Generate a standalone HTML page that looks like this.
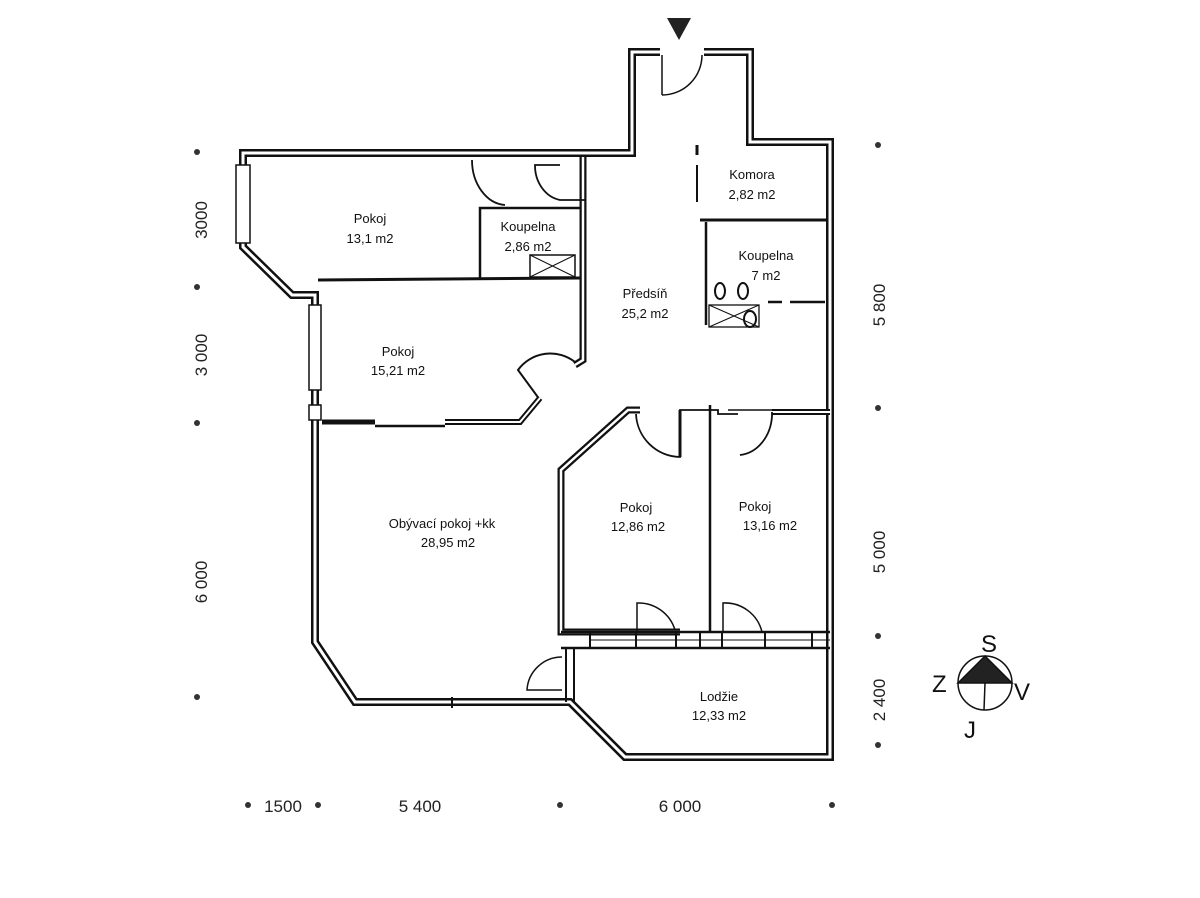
<!DOCTYPE html>
<html><head><meta charset="utf-8"><style>
html,body{margin:0;padding:0;background:#fff;}
svg{display:block;}
text{font-family:"Liberation Sans",sans-serif;font-size:13px;fill:#111;}
.d{font-size:17px;fill:#222;}
</style></head><body>
<svg width="1200" height="898" viewBox="0 0 1200 898">
<g fill="none" stroke="#111" stroke-linejoin="miter">
<!-- outer walls (double) -->
<path d="M243,153 L632,153 L632,52 L750,52 L750,142 L830,142 L830,757 L625,757 L570,702 L355,702 L315,642 L315,295 L292,295 L243,247 Z" stroke-width="8"/>
<path d="M243,153 L632,153 L632,52 L750,52 L750,142 L830,142 L830,757 L625,757 L570,702 L355,702 L315,642 L315,295 L292,295 L243,247 Z" stroke="#fff" stroke-width="3"/>
<!-- entrance door gap -->
<rect x="660" y="46" width="44" height="12" fill="#fff" stroke="none"/>
<path d="M662,55 L662,95 M662,95 A40,40 0 0 0 702,55" stroke-width="1.5"/>
<!-- window on left -->
<rect x="236" y="165" width="14" height="78" fill="#fff" stroke="#111" stroke-width="1.5"/>
<rect x="309" y="305" width="12" height="85" fill="#fff" stroke="#111" stroke-width="1.5"/>
<rect x="309" y="405" width="12" height="15" fill="#fff" stroke="#111" stroke-width="1.5"/>
<!-- wall 13.1 / 15.21 -->
<path d="M318,280 L580,278" stroke-width="3"/>
<!-- koupelna 2.86 -->
<path d="M480,280 L480,208 L582,208" stroke-width="2.5"/>
<path d="M583,157 L583,360 L575,365" stroke-width="7"/>
<path d="M583,157 L583,360 L575,365" stroke="#fff" stroke-width="2.5"/>
<rect x="530" y="255" width="45" height="22" stroke-width="1.5"/>
<path d="M530,255 L575,277 M575,255 L530,277" stroke-width="1"/>
<!-- doors top -->
<path d="M472,160 A35,45 0 0 0 505,205" stroke-width="1.8"/>
<path d="M560,165 L535,165 A30,35 0 0 0 560,200 L585,200" stroke-width="1.8"/>
<!-- door 15.21 -->
<path d="M575,362 A40,40 0 0 0 518,370 L540,400" stroke-width="2"/>
<path d="M540,398 L520,422 L445,422" stroke-width="6"/>
<path d="M540,398 L520,422 L445,422" stroke="#fff" stroke-width="2"/>
<path d="M322,422 L375,422" stroke-width="5"/>
<path d="M375,426 L445,426" stroke-width="2.5"/>
<!-- right block -->
<path d="M697,145 L697,155" stroke-width="3"/>
<path d="M697,165 L697,202" stroke-width="2"/>
<path d="M700,220 L827,220" stroke-width="3"/>
<path d="M706,222 L706,325" stroke-width="2.5"/>
<path d="M768,302 L782,302 M790,302 L825,302" stroke-width="2.5"/>
<ellipse cx="720" cy="291" rx="5" ry="8" stroke-width="2"/>
<ellipse cx="743" cy="291" rx="5" ry="8" stroke-width="2"/>
<rect x="709" y="305" width="50" height="22" stroke-width="1.3"/>
<path d="M709,305 L759,327 M759,305 L709,327" stroke-width="1"/>
<ellipse cx="750" cy="319" rx="6" ry="8" stroke-width="2"/>
<!-- bedrooms -->
<path d="M640,410 L628,410 L561,470 L561,632 L680,632" stroke-width="7"/>
<path d="M640,410 L628,410 L561,470 L561,632 L680,632" stroke="#fff" stroke-width="2.5"/>
<path d="M636,414 A45,45 0 0 0 680,457 L680,410 L718,410 L718,414 L738,414" stroke-width="1.8"/>
<path d="M680,410 L680,457" stroke-width="3"/>
<path d="M710,405 L710,632" stroke-width="2.5"/>
<path d="M772,412 L830,412" stroke-width="6"/>
<path d="M772,412 L830,412" stroke="#fff" stroke-width="2"/>
<path d="M772,412 L772,416 A35,42 0 0 1 740,455" stroke-width="1.8"/>
<path d="M728,410 L772,410" stroke-width="1.5"/>
<!-- bottom windows -->
<path d="M561,632 L830,632" stroke-width="2.5"/>
<path d="M561,648 L830,648" stroke-width="2.5"/>
<path d="M590,640 L830,640" stroke-width="1"/>
<path d="M590,632 L590,648 M636,632 L636,648 M676,632 L676,648 M700,632 L700,648 M722,632 L722,648 M765,632 L765,648 M812,632 L812,648" stroke-width="2"/>
<path d="M637,632 L637,603 A38,38 0 0 1 675,630" stroke-width="1.5"/>
<path d="M723,632 L723,603 A38,38 0 0 1 762,632" stroke-width="1.5"/>
<!-- living door & lodzie separation -->
<path d="M566,648 L566,702 M574,648 L574,702" stroke-width="2"/>
<path d="M562,657 A35,35 0 0 0 527,690 L562,690" stroke-width="1.5"/>
<path d="M452,697 L452,708" stroke-width="2"/>
</g>
<!-- entry arrow -->
<path d="M667,18 L691,18 L679,40 Z" fill="#222"/>
<!-- labels -->
<g text-anchor="middle">
<text x="370" y="223">Pokoj</text><text x="370" y="243">13,1 m2</text>
<text x="528" y="231">Koupelna</text><text x="528" y="251">2,86 m2</text>
<text x="752" y="179">Komora</text><text x="752" y="199">2,82 m2</text>
<text x="766" y="260">Koupelna</text><text x="766" y="280">7 m2</text>
<text x="645" y="298">Předsíň</text><text x="645" y="318">25,2 m2</text>
<text x="398" y="356">Pokoj</text><text x="398" y="375">15,21 m2</text>
<text x="442" y="528">Obývací pokoj +kk</text><text x="448" y="547">28,95 m2</text>
<text x="636" y="512">Pokoj</text><text x="638" y="531">12,86 m2</text>
<text x="755" y="511">Pokoj</text><text x="770" y="530">13,16 m2</text>
<text x="719" y="701">Lodžie</text><text x="719" y="720">12,33 m2</text>
</g>
<!-- dimension dots -->
<g fill="#333">
<circle cx="197" cy="152" r="3"/><circle cx="197" cy="287" r="3"/><circle cx="197" cy="423" r="3"/><circle cx="197" cy="697" r="3"/>
<circle cx="878" cy="145" r="3"/><circle cx="878" cy="408" r="3"/><circle cx="878" cy="636" r="3"/><circle cx="878" cy="745" r="3"/>
<circle cx="248" cy="805" r="3"/><circle cx="318" cy="805" r="3"/><circle cx="560" cy="805" r="3"/><circle cx="832" cy="805" r="3"/>
</g>
<g text-anchor="middle">
<text class="d" transform="translate(207,220) rotate(-90)">3000</text>
<text class="d" transform="translate(207,355) rotate(-90)">3 000</text>
<text class="d" transform="translate(207,582) rotate(-90)">6 000</text>
<text class="d" transform="translate(885,305) rotate(-90)">5 800</text>
<text class="d" transform="translate(885,552) rotate(-90)">5 000</text>
<text class="d" transform="translate(885,700) rotate(-90)">2 400</text>
<text class="d" x="283" y="812">1500</text>
<text class="d" x="420" y="812">5 400</text>
<text class="d" x="680" y="812">6 000</text>
</g>
<!-- compass -->
<g stroke="#111" stroke-width="1.5" fill="none">
<circle cx="985" cy="683" r="27"/>
<path d="M958,683 L985,656 L1012,683 Z" fill="#222"/>
<path d="M985,683 L984,710"/>
</g>
<g font-family="Liberation Sans,sans-serif" font-size="24" fill="#111">
<text x="981" y="652" style="font-size:24px">S</text>
<text x="932" y="692" style="font-size:24px">Z</text>
<text x="1014" y="700" style="font-size:24px">V</text>
<text x="964" y="738" style="font-size:24px">J</text>
</g>
</svg>
</body></html>
